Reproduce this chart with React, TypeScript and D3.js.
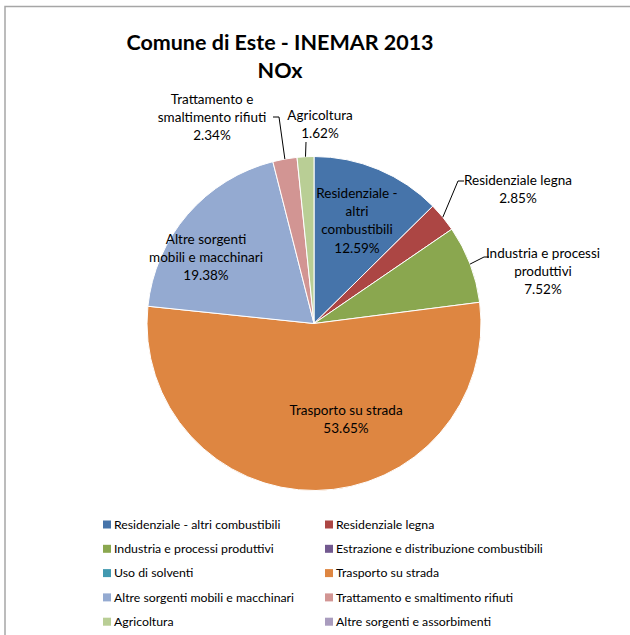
import React from "react";
import * as d3 from "d3";

const categories = [
  "Residenziale - altri combustibili",
  "Residenziale legna",
  "Industria e processi produttivi",
  "Estrazione e distribuzione combustibili",
  "Uso di solventi",
  "Trasporto su strada",
  "Altre sorgenti mobili e macchinari",
  "Trattamento  e smaltimento  rifiuti",
  "Agricoltura",
  "Altre sorgenti e assorbimenti",
];
const values = [12.59, 2.85, 7.52, 0, 0, 53.65, 19.38, 2.34, 1.62, 0];
const labelLines: (string[] | null)[] = [
  ["Residenziale -", "altri", "combustibili"],
  ["Residenziale legna"],
  ["Industria e processi", "produttivi"],
  null,
  null,
  ["Trasporto su strada"],
  ["Altre sorgenti", "mobili e macchinari"],
  ["Trattamento e", "smaltimento rifiuti"],
  ["Agricoltura"],
  null,
];
const colors = [
  "#4674AA", "#AC4644", "#8AA74F", "#72598F", "#4299B0",
  "#DE8641", "#94AAD1", "#D29593", "#B9CE95", "#A99CBE",
];
const title = ["Comune di Este - INEMAR 2013", "NOx"];

// layout (label placements) — positions only
const labelPos: Record<number, { x: number; y: number; leader?: [number, number][] }> = {
  0: { x: 357, y: 193 },
  1: { x: 518, y: 180, leader: [[458, 181], [464, 181]] },
  2: { x: 543, y: 253, leader: [[484, 257], [489, 257]] },
  5: { x: 346, y: 410 },
  6: { x: 206, y: 239 },
  7: { x: 212, y: 99, leader: [[279, 117], [273, 117]] },
  8: { x: 320, y: 115, leader: [[306, 142]] },
};

const FONT = "Lato, 'Open Sans', sans-serif";

export default function App() {
  const cx = 314, cy = 323.5, R = 167;
  const pie = d3.pie<number>().sort(null).value((d) => d)(values);
  const arc = d3.arc<d3.PieArcDatum<number>>().innerRadius(0).outerRadius(R);
  const lh = 18.3;
  return (
    <svg width={630} height={635} style={{ position: "absolute", left: 0, top: 0, background: "#fff" }}>
      <rect x={5} y={6.5} width={700} height={700} fill="#fff" stroke="#a6a6a6" strokeWidth={1.5} />
      <g fontFamily={FONT} fontWeight="bold" fontSize={21.5} textAnchor="middle" fill="#000">
        <text x={280} y={50}>{title[0]}</text>
        <text x={280} y={78}>{title[1]}</text>
      </g>
      <g transform={`translate(${cx},${cy})`}>
        {pie.map((p, i) =>
          p.value > 0 ? (
            <path key={i} d={arc(p) || ""} fill={colors[i]} stroke="#fff" strokeWidth={1} />
          ) : null
        )}
      </g>
      {pie.map((p, i) => {
        const lp = labelPos[i];
        const lines = labelLines[i];
        if (!lp || !lines) return null;
        const mid = (p.startAngle + p.endAngle) / 2;
        const sx = cx + R * Math.sin(mid);
        const sy = cy - R * Math.cos(mid);
        const all = [...lines, d3.format(".2%")(p.value / 100)];
        return (
          <g key={i}>
            {lp.leader && (
              <polyline
                points={[[sx, sy], ...lp.leader].map((q) => q.join(",")).join(" ")}
                fill="none"
                stroke="#000"
                strokeWidth={1}
              />
            )}
            <g fontFamily={FONT} fontSize={13.5} textAnchor="middle" fill="#000">
              {all.map((t, j) => (
                <text key={j} x={lp.x} y={lp.y + j * lh} dy="0.35em">{t}</text>
              ))}
            </g>
          </g>
        );
      })}
      <g fontFamily={FONT} fontSize={12.3} fill="#000">
        {categories.map((c, i) => {
          const col = i % 2;
          const row = Math.floor(i / 2);
          const x = col === 0 ? 103 : 325;
          const y = 524.5 + row * 24.3;
          return (
            <g key={i}>
              <rect x={x} y={y - 4} width={8} height={8} fill={colors[i]} />
              <text x={x + 11} y={y} dy="0.35em">{c}</text>
            </g>
          );
        })}
      </g>
    </svg>
  );
}
